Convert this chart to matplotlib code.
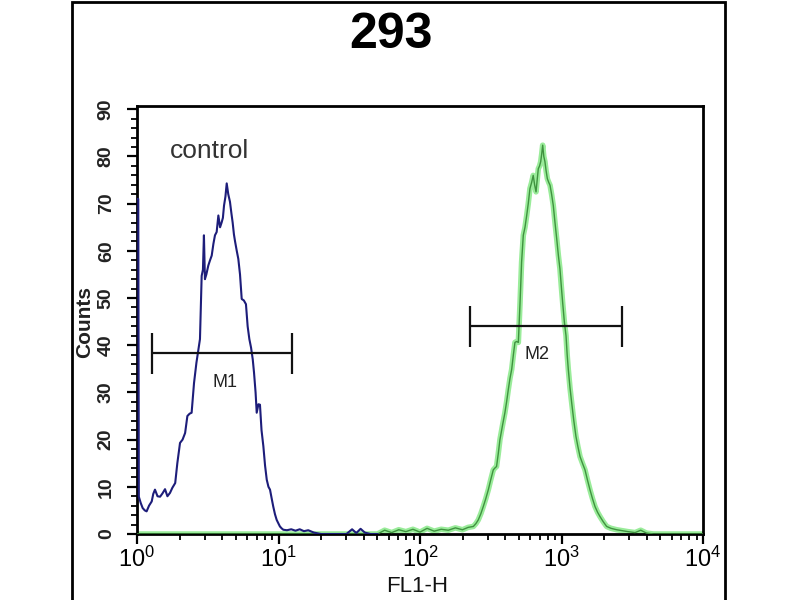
import matplotlib
matplotlib.use("Agg")
import matplotlib.pyplot as plt
from matplotlib.ticker import LogLocator, MultipleLocator, NullFormatter
from matplotlib.patches import Rectangle
import numpy as np

plt.rcParams['font.family'] = ['Liberation Sans', 'DejaVu Sans']
plt.rcParams['mathtext.default'] = 'regular'

# ---- data (FL1-H exponent, i.e. log10 of FL1-H, and counts) ----
blue_exp = [0.004, 0.009, 0.013, 0.026, 0.040, 0.055, 0.068, 0.085, 0.104, 0.115,
            0.127, 0.145, 0.163, 0.180, 0.198, 0.215, 0.233, 0.250, 0.270, 0.285,
            0.304, 0.322, 0.340, 0.356, 0.372, 0.386, 0.403, 0.420, 0.445, 0.457,
            0.466, 0.473, 0.480, 0.490, 0.504, 0.516, 0.528, 0.540, 0.551, 0.563,
            0.575, 0.587, 0.598, 0.607, 0.615, 0.625, 0.634, 0.645, 0.657, 0.667,
            0.676, 0.685, 0.693, 0.705, 0.716, 0.728, 0.740, 0.755, 0.770, 0.782,
            0.794, 0.806, 0.818, 0.827, 0.838, 0.846, 0.858, 0.869, 0.880, 0.893,
            0.905, 0.917, 0.929, 0.940, 0.952, 0.963, 0.975, 0.987, 1.000, 1.010,
            1.022, 1.034, 1.060, 1.090, 1.120, 1.150, 1.180, 1.210, 1.250, 1.300,
            1.400, 1.480, 1.520, 1.550, 1.580, 1.610, 1.650, 1.700]
blue_counts = [71.0, 71.0, 7.9, 6.6, 5.5, 5.0, 4.8, 6.0, 6.9, 8.5,
               9.4, 8.0, 7.9, 8.6, 9.5, 8.0, 8.7, 9.8, 10.8, 15.0,
               19.3, 20.0, 21.4, 25.0, 25.5, 25.7, 32.0, 36.3, 41.3, 54.7,
               56.0, 63.3, 54.0, 55.0, 56.9, 58.0, 59.0, 61.5, 63.3, 64.0,
               67.5, 65.0, 66.0, 67.0, 69.6, 71.5, 74.3, 72.0, 70.4, 68.0,
               66.0, 63.5, 62.0, 60.0, 58.3, 55.0, 49.8, 49.5, 48.7, 44.0,
               41.3, 39.5, 37.0, 34.2, 30.0, 25.7, 27.5, 27.4, 22.0, 18.6,
               14.5, 11.5, 10.0, 9.4, 7.5, 5.8, 4.2, 3.0, 2.2, 1.6,
               1.2, 0.9, 0.8, 1.0, 0.7, 1.0, 0.6, 0.8, 0.3, 0.0,
               0.0, 0.0, 1.0, 0.2, 1.1, 0.3, 0.0, 0.0]

green_exp = [0.000, 1.700, 1.750, 1.800, 1.850, 1.900, 1.950, 2.000, 2.050, 2.100,
             2.150, 2.200, 2.250, 2.300, 2.340, 2.377, 2.395, 2.412, 2.430, 2.447,
             2.465, 2.483, 2.500, 2.518, 2.530, 2.541, 2.553, 2.565, 2.583, 2.600,
             2.612, 2.624, 2.636, 2.648, 2.660, 2.671, 2.683, 2.695, 2.707, 2.718,
             2.730, 2.742, 2.754, 2.765, 2.777, 2.789, 2.800, 2.810, 2.820, 2.828,
             2.836, 2.845, 2.853, 2.860, 2.867, 2.875, 2.883, 2.891, 2.900, 2.910,
             2.919, 2.930, 2.942, 2.954, 2.966, 2.978, 2.989, 3.000, 3.008, 3.020,
             3.032, 3.040, 3.048, 3.060, 3.072, 3.087, 3.102, 3.116, 3.131, 3.148,
             3.166, 3.183, 3.201, 3.219, 3.237, 3.255, 3.272, 3.295, 3.319, 3.350,
             3.390, 3.430, 3.470, 3.520, 3.560, 3.600, 3.650, 4.000]
green_counts = [0.0, 0.0, 0.8, 0.3, 0.9, 0.5, 1.0, 0.4, 1.2, 0.6,
                1.0, 0.8, 1.3, 0.9, 1.4, 1.6, 2.2, 3.0, 4.3, 5.8,
                7.5, 9.4, 11.5, 13.6, 14.0, 14.3, 17.0, 20.0, 23.0, 25.7,
                28.0, 30.6, 33.0, 34.9, 38.0, 40.6, 40.8, 40.6, 49.0, 57.6,
                63.3, 65.0, 67.5, 70.0, 73.2, 74.5, 76.0, 74.0, 72.5, 75.0,
                77.4, 78.0, 78.9, 80.5, 82.4, 80.0, 78.9, 77.0, 75.3, 74.5,
                73.9, 72.0, 69.6, 66.0, 62.6, 59.0, 56.2, 52.0, 49.1, 45.0,
                42.0, 38.0, 34.9, 31.0, 27.8, 24.0, 20.7, 18.5, 16.4, 15.0,
                13.6, 11.5, 9.4, 7.5, 5.8, 4.6, 3.7, 2.6, 1.6, 1.2,
                0.9, 0.7, 0.5, 0.3, 0.8, 0.2, 0.0, 0.0]

# gates: (low, high, level)
m1_gate = (1.27, 12.4, 38.3)
m2_gate = (225.0, 2660.0, 44.0)
gate_labels = ["M1", "M2"]
gate_label_pos = [(4.2, 32.0), (671.0, 38.0)]
y_ticks = [0, 10, 20, 30, 40, 50, 60, 70, 80, 90]

fig = plt.figure(figsize=(8, 6), dpi=100)
ax = fig.add_axes([137/800, 1-534/600, (703-137)/800, (534-106)/600])

bx = 10 ** np.array(blue_exp)
gx = 10 ** np.array(green_exp)

ax.plot(gx, green_counts, color='#9aec9a', lw=4.0, solid_joinstyle='round', zorder=2)
ax.plot(gx, green_counts, color='#3f923f', lw=1.0, zorder=3)
ax.plot(bx, blue_counts, color='#1d1d7a', lw=1.5, zorder=4)

ax.set_xscale('log')
ax.set_xlim(1, 1e4)
ax.set_ylim(0, 90.7)

cap = 4.3
for (lo, hi, lev), lab, (lx, ly) in zip([m1_gate, m2_gate], gate_labels, gate_label_pos):
    ax.hlines(lev, lo, hi, color='#111111', lw=1.6, zorder=5)
    ax.vlines([lo, hi], lev - cap, lev + cap, color='#111111', lw=1.6, zorder=5)
    ax.text(lx, ly, lab, ha='center', va='center', fontsize=13, color='#222222', zorder=6)

ax.text(1.71, 81.1, 'control', ha='left', va='center', fontsize=19, color='#333333')

ax.set_yticks(y_ticks)
ax.yaxis.set_minor_locator(MultipleLocator(2))
ax.xaxis.set_major_locator(LogLocator(base=10, numticks=10))
ax.xaxis.set_minor_locator(LogLocator(base=10, subs=np.arange(2, 10), numticks=20))
ax.xaxis.set_minor_formatter(NullFormatter())

ax.tick_params(axis='both', which='major', direction='out', length=7, width=1.6, color='black')
ax.tick_params(axis='both', which='minor', direction='out', length=4, width=1.3, color='black')
ax.tick_params(axis='x', which='major', labelsize=17, pad=2)
ax.tick_params(axis='y', which='major', labelsize=14, pad=9)
for lbl in ax.get_yticklabels():
    lbl.set_rotation(90)
    lbl.set_va('center')
    lbl.set_fontweight('bold')
    lbl.set_color('#222222')

for sp in ax.spines.values():
    sp.set_linewidth(2.0)
    sp.set_color('black')

fig.text(85/800, 1-322/600, 'Counts', rotation=90, ha='center', va='center',
         fontsize=15, fontweight='bold', color='#222222')
fig.text(417/800, 1-586/600, 'FL1-H', ha='center', va='center', fontsize=16, color='#111111')
fig.text(391/800, 1-35/600, '293', ha='center', va='center', fontsize=36, fontweight='bold')

fig.add_artist(Rectangle((72/800, -0.02), (725-72)/800, 1.0 + 0.02 - 2/600,
                         transform=fig.transFigure, fill=False, lw=2.0, ec='black'))

fig.savefig('out.png', dpi=100)
